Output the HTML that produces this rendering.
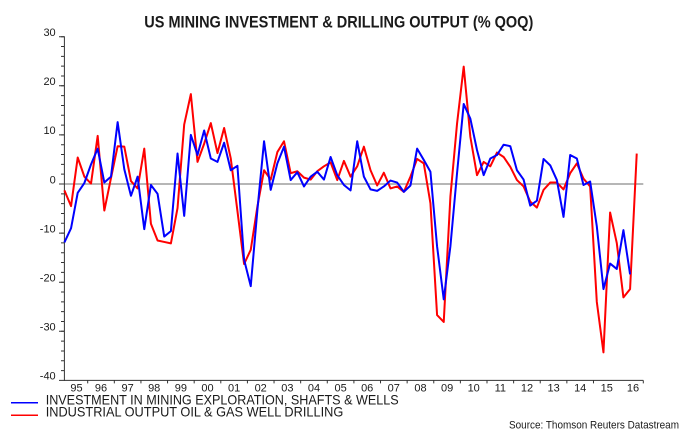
<!DOCTYPE html>
<html>
<head>
<meta charset="utf-8">
<style>
  html, body { margin:0; padding:0; background:#ffffff; }
  body { width:681px; height:433px; overflow:hidden; }
  svg { display:block; }
  text { font-family: "Liberation Sans", Arial, sans-serif; fill:#1a1a1a; }
</style>
</head>
<body>
<svg width="681" height="433" viewBox="0 0 681 433" xmlns="http://www.w3.org/2000/svg">
  <rect x="0" y="0" width="681" height="433" fill="#ffffff"/>

  <!-- Title -->
  <text x="144.3" y="27.7" font-size="17" font-weight="bold" textLength="389" lengthAdjust="spacingAndGlyphs">US MINING INVESTMENT &amp; DRILLING OUTPUT (% QOQ)</text>

  <!-- zero line -->
  <line x1="64.4" y1="184" x2="643.3" y2="184" stroke="#8a8a8a" stroke-width="1.3"/>

  <!-- Y axis -->
  <line x1="64.4" y1="36.2" x2="64.4" y2="380.9" stroke="#333" stroke-width="1"/>
  <path d="M61 36.7h3m-3 9.82h3m-3 9.82h3m-3 9.82h3m-3 9.82h3m-3 9.82h3m-3 9.82h3m-3 9.82h3m-3 9.82h3m-3 9.82h3m-3 9.82h3m-3 9.82h3m-3 9.82h3m-3 9.82h3m-3 9.82h3m-3 9.82h3m-3 9.82h3m-3 9.82h3m-3 9.82h3m-3 9.82h3m-3 9.82h3m-3 9.82h3m-3 9.82h3m-3 9.82h3m-3 9.82h3m-3 9.82h3m-3 9.82h3m-3 9.82h3m-3 9.82h3m-3 9.82h3m-3 9.82h3m-3 9.82h3m-3 9.82h3m-3 9.82h3m-3 9.82h3" stroke="#333" stroke-width="1" fill="none"/>
  <path d="M59 36.7h5m-5 49.1h5m-5 49.1h5m-5 49.1h5m-5 49.1h5m-5 49.1h5m-5 49.1h5m-5 49.1h5" stroke="#333" stroke-width="1" fill="none"/>

  <!-- Y labels -->
  <g font-size="11" text-anchor="end">
    <text x="55.7" y="36">30</text>
    <text x="55.7" y="85.1">20</text>
    <text x="55.7" y="134.2">10</text>
    <text x="55.7" y="183.3">0</text>
    <text x="55.7" y="232.4">-10</text>
    <text x="55.7" y="281.5">-20</text>
    <text x="55.7" y="330.6">-30</text>
    <text x="55.7" y="379.7">-40</text>
  </g>

  <!-- X axis -->
  <line x1="64" y1="380.4" x2="643.3" y2="380.4" stroke="#333" stroke-width="1"/>
  <path d="M87.7 380.4v3m26.62 -3v3m26.62 -3v3m26.62 -3v3m26.62 -3v3m26.62 -3v3m26.62 -3v3m26.62 -3v3m26.62 -3v3m26.62 -3v3m26.62 -3v3m26.62 -3v3m26.62 -3v3m26.62 -3v3m26.62 -3v3m26.62 -3v3m26.62 -3v3m26.62 -3v3m26.62 -3v3m26.62 -3v3M643.3 380.4v3" stroke="#333" stroke-width="1" fill="none"/>

  <!-- X labels -->
  <g font-size="11" text-anchor="middle">
    <text x="76.5" y="391.7">95</text>
    <text x="101.0" y="391.7">96</text>
    <text x="127.6" y="391.7">97</text>
    <text x="154.2" y="391.7">98</text>
    <text x="180.9" y="391.7">99</text>
    <text x="207.5" y="391.7">00</text>
    <text x="234.1" y="391.7">01</text>
    <text x="260.7" y="391.7">02</text>
    <text x="287.4" y="391.7">03</text>
    <text x="314.0" y="391.7">04</text>
    <text x="340.6" y="391.7">05</text>
    <text x="367.2" y="391.7">06</text>
    <text x="393.8" y="391.7">07</text>
    <text x="420.5" y="391.7">08</text>
    <text x="447.1" y="391.7">09</text>
    <text x="473.7" y="391.7">10</text>
    <text x="500.3" y="391.7">11</text>
    <text x="527.0" y="391.7">12</text>
    <text x="553.6" y="391.7">13</text>
    <text x="580.2" y="391.7">14</text>
    <text x="606.8" y="391.7">15</text>
    <text x="633.0" y="391.7">16</text>
  </g>

  <!-- Series -->
  <g transform="translate(64.4,184) scale(6.655,-4.91)">
    <polyline fill="none" stroke="#ff0000" stroke-width="2" vector-effect="non-scaling-stroke" stroke-linejoin="round"
      points="0,-1.3 1,-4.5 2,5.4 3,1.5 4,0.1 5,9.8 6,-5.4 7,1.2 8,7.7 9,7.6 10,0.6 11,-0.9 12,7.2 13,-8.1 14,-11.5 15,-11.8 16,-12.1 17,-4.9 18,12.1 19,18.3 20,4.5 21,8.2 22,12.4 23,6.3 24,11.4 25,5.2 26,-5.5 27,-16.3 28,-13.4 29,-4.6 30,2.8 31,0.9 32,6.5 33,8.7 34,2.2 35,2.6 36,1.3 37,0.9 38,2.6 39,3.6 40,4.4 41,0.8 42,4.7 43,1.5 44,3.6 45,7.6 46,2.8 47,-0.3 48,2.3 49,-0.9 50,-0.5 51,-1.6 52,1.5 53,5.1 54,4.2 55,-3.9 56,-26.7 57,-28.1 58,-2.6 59,12.3 60,23.9 61,9.6 62,1.8 63,4.5 64,3.6 65,6.4 66,5.5 67,3.5 68,0.8 69,-0.5 70,-3.6 71,-4.8 72,-1.2 73,0.3 74,0.3 75,-1.1 76,2.2 77,4.2 78,1.1 79,-0.5 80,-24 81,-34.3 82,-5.8 83,-12 84,-23.1 85,-21.4 86,6.2"/>
    <polyline fill="none" stroke="#0000ff" stroke-width="2" vector-effect="non-scaling-stroke" stroke-linejoin="round"
      points="0,-11.9 1,-9 2,-1.8 3,0.2 4,4 5,7.2 6,0.3 7,1.5 8,12.6 9,3 10,-2.4 11,1.5 12,-9.2 13,-0.2 14,-2 15,-10.7 16,-9.6 17,6.2 18,-6.5 19,10 20,5.9 21,10.9 22,5.2 23,4.5 24,8.4 25,2.8 26,3.7 27,-15.4 28,-20.8 29,-5.3 30,8.7 31,-1.2 32,4.2 33,7.6 34,0.8 35,2.4 36,-0.5 37,1.5 38,2.5 39,0.9 40,5.5 41,1.8 42,-0.2 43,-1.3 44,8.7 45,1.5 46,-1.1 47,-1.4 48,-0.5 49,0.7 50,0.3 51,-1.6 52,-0.3 53,7.2 54,4.9 55,2.5 56,-12.7 57,-23.5 58,-12.7 59,2.2 60,16.3 61,13.3 62,6.9 63,1.8 64,5.2 65,5.9 66,8 67,7.7 68,2.8 69,0.9 70,-4.4 71,-3.4 72,5.1 73,3.8 74,0.8 75,-6.7 76,5.9 77,5.2 78,-0.2 79,0.5 80,-8.6 81,-21.4 82,-16.2 83,-17.3 84,-9.4 85,-18.4"/>
  </g>

  <!-- Legend -->
  <line x1="11" y1="402.7" x2="38" y2="402.7" stroke="#0000ff" stroke-width="1.5"/>
  <line x1="11" y1="415.3" x2="38" y2="415.3" stroke="#ff0000" stroke-width="1.5"/>
  <text x="45.7" y="404.3" font-size="14" textLength="353" lengthAdjust="spacingAndGlyphs">INVESTMENT IN MINING EXPLORATION, SHAFTS &amp; WELLS</text>
  <text x="45.7" y="416.7" font-size="14" textLength="297.6" lengthAdjust="spacingAndGlyphs">INDUSTRIAL OUTPUT OIL &amp; GAS WELL DRILLING</text>

  <!-- Source -->
  <text x="509" y="428.3" font-size="11" textLength="170" lengthAdjust="spacingAndGlyphs">Source: Thomson Reuters Datastream</text>
</svg>
</body>
</html>
